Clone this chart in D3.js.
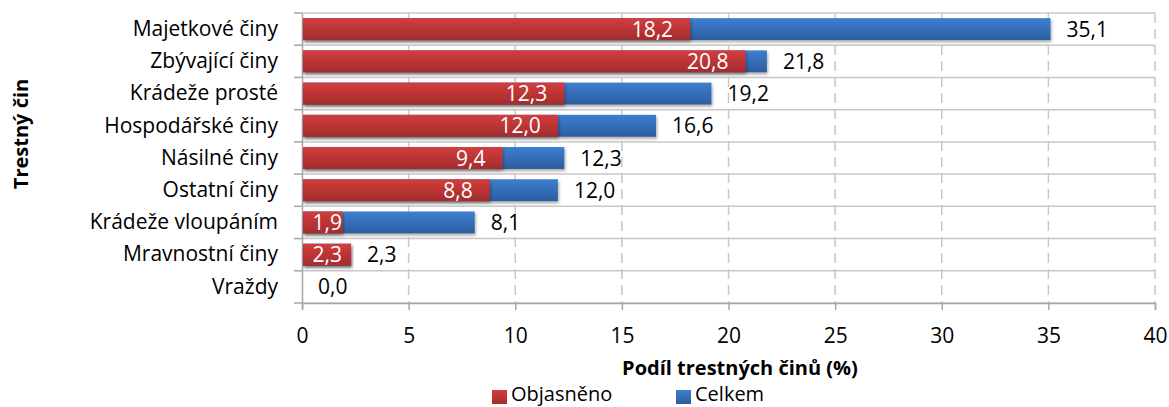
<!DOCTYPE html>
<html>
<head>
<meta charset="utf-8">
<script src="https://cdn.jsdelivr.net/npm/d3@7"></script>
<style>
  body { margin: 0; background: #fff; }
  text { font-family: "Open Sans", sans-serif; }
</style>
</head>
<body>
<div id="chart"></div>
<script>
var categories = ["Majetkové činy", "Zbývající činy", "Krádeže prosté", "Hospodářské činy",
  "Násilné činy", "Ostatní činy", "Krádeže vloupáním", "Mravnostní činy", "Vraždy"];
var celkem = [35.1, 21.8, 19.2, 16.6, 12.3, 12.0, 8.1, 2.3, 0.0];
var objasneno = [18.2, 20.8, 12.3, 12.0, 9.4, 8.8, 1.9, 2.3, 0.0];
var xTicks = [0, 5, 10, 15, 20, 25, 30, 35, 40];

var width = 1169, height = 407;
var margin = {top: 13, right: 14, bottom: 104, left: 302};
var fs = 21;

var svg = d3.select("#chart").append("svg")
    .attr("width", width)
    .attr("height", height);

var defs = svg.append("defs");
function grad(id, c1, c2) {
  var g = defs.append("linearGradient").attr("id", id)
      .attr("x1", 0).attr("y1", 0).attr("x2", 0).attr("y2", 1);
  g.append("stop").attr("offset", "0%").attr("stop-color", c1);
  g.append("stop").attr("offset", "100%").attr("stop-color", c2);
}
grad("gRed", "#d33d3d", "#a42c2c");
grad("gBlue", "#3d7fd0", "#2c5d9e");
var f = defs.append("filter").attr("id", "shadow").attr("x", "-5%").attr("y", "-20%").attr("width", "110%").attr("height", "160%");
f.append("feDropShadow").attr("dx", 1).attr("dy", 2).attr("stdDeviation", 1.5).attr("flood-color", "#000").attr("flood-opacity", 0.35);

var x = d3.scaleLinear().domain([0, 40]).range([margin.left, width - margin.right]);
var y = d3.scaleBand().domain(categories).range([margin.top, height - margin.bottom]).paddingInner(0.32).paddingOuter(0.16);
var band = d3.scaleBand().domain(categories).range([margin.top, height - margin.bottom]);

var g = svg.append("g");

// horizontal grid lines at category boundaries
g.selectAll("line.hgrid").data(d3.range(categories.length + 1)).join("line")
    .attr("x1", x(0)).attr("x2", x(40))
    .attr("y1", function(i) { return margin.top + i * band.step(); })
    .attr("y2", function(i) { return margin.top + i * band.step(); })
    .attr("stroke", "#c8c8c8").attr("stroke-width", 1.5);

// vertical dashed grid
g.selectAll("line.vgrid").data(xTicks.slice(1)).join("line")
    .attr("x1", function(d) { return x(d); }).attr("x2", function(d) { return x(d); })
    .attr("y1", margin.top).attr("y2", height - margin.bottom)
    .attr("stroke", "#c8c8c8").attr("stroke-width", 1.5)
    .attr("stroke-dasharray", "10,6");

// x axis
var xAxis = g.append("g")
    .attr("transform", "translate(0," + (height - margin.bottom) + ")")
    .call(d3.axisBottom(x).tickValues(xTicks).tickSize(7).tickFormat(d3.format("d")));
xAxis.select(".domain").attr("stroke", "#a6a6a6").attr("stroke-width", 1.5);
xAxis.selectAll(".tick line").attr("stroke", "#a6a6a6").attr("stroke-width", 1.5);
xAxis.selectAll(".tick text").attr("y", 40).attr("dy", null)
    .attr("font-size", fs).attr("fill", "#000").attr("font-family", "Open Sans");

// y axis
var yAxis = g.append("g")
    .attr("transform", "translate(" + x(0) + ",0)")
    .call(d3.axisLeft(band).tickSize(0).tickPadding(24));
yAxis.select(".domain").attr("stroke", "#a6a6a6").attr("stroke-width", 1.5);
yAxis.selectAll(".tick text").attr("font-size", fs).attr("fill", "#000").attr("font-family", "Open Sans");
g.selectAll("line.ytick").data(d3.range(categories.length + 1)).join("line")
    .attr("x1", x(0) - 8).attr("x2", x(0))
    .attr("y1", function(i) { return margin.top + i * band.step(); })
    .attr("y2", function(i) { return margin.top + i * band.step(); })
    .attr("stroke", "#a6a6a6").attr("stroke-width", 1.5);

// bars: Celkem behind, Objasněno in front
g.selectAll("rect.celkem").data(categories).join("rect")
    .attr("x", x(0) + 1)
    .attr("y", function(d) { return y(d); })
    .attr("width", function(d, i) { return Math.max(0, x(celkem[i]) - x(0) - 1); })
    .attr("height", y.bandwidth())
    .attr("fill", "url(#gBlue)")
    .attr("filter", "url(#shadow)");

g.selectAll("rect.obj").data(categories).join("rect")
    .attr("x", x(0) + 1)
    .attr("y", function(d) { return y(d); })
    .attr("width", function(d, i) { return Math.max(0, x(objasneno[i]) - x(0) - 1); })
    .attr("height", y.bandwidth())
    .attr("fill", "url(#gRed)")
    .attr("filter", function(d, i) { return objasneno[i] > 0 ? "url(#shadow)" : null; });

var fmt = function(v) { return v.toFixed(1).replace(".", ","); };

// labels
g.selectAll("text.cel").data(categories).join("text")
    .attr("x", function(d, i) { return x(celkem[i]) + 16; })
    .attr("y", function(d) { return y(d) + y.bandwidth() / 2; })
    .attr("dy", "0.36em")
    .attr("font-size", fs)
    .attr("fill", "#000")
    .text(function(d, i) { return fmt(celkem[i]); });

g.selectAll("text.objl").data(categories).join("text")
    .filter(function(d, i) { return objasneno[i] > 0; })
    .attr("x", function(d, i) { return Math.max(x(objasneno[categories.indexOf(d)]) - 17, x(0) + 40); })
    .attr("y", function(d) { return y(d) + y.bandwidth() / 2; })
    .attr("dy", "0.36em")
    .attr("text-anchor", "end")
    .attr("font-size", fs)
    .attr("fill", "#fff")
    .text(function(d) { return fmt(objasneno[categories.indexOf(d)]); });

// axis titles
svg.append("text")
    .attr("transform", "translate(28,134) rotate(-90)")
    .attr("text-anchor", "middle")
    .attr("font-size", 20).attr("font-weight", "bold")
    .text("Trestný čin");

svg.append("text")
    .attr("x", 740).attr("y", 375)
    .attr("text-anchor", "middle")
    .attr("font-size", 20).attr("font-weight", "bold")
    .text("Podíl trestných činů (%)");

// legend
var legendItems = [{name: "Objasněno", fill: "url(#gRed)", x: 492}, {name: "Celkem", fill: "url(#gBlue)", x: 676}];
var lg = svg.selectAll("g.legend").data(legendItems).join("g")
    .attr("transform", function(d) { return "translate(" + d.x + ",0)"; });
lg.append("rect").attr("x", 0).attr("y", 390).attr("width", 15).attr("height", 14).attr("fill", function(d) { return d.fill; });
lg.append("text").attr("x", 19).attr("y", 401).attr("font-size", 20).text(function(d) { return d.name; });
</script>
</body>
</html>
